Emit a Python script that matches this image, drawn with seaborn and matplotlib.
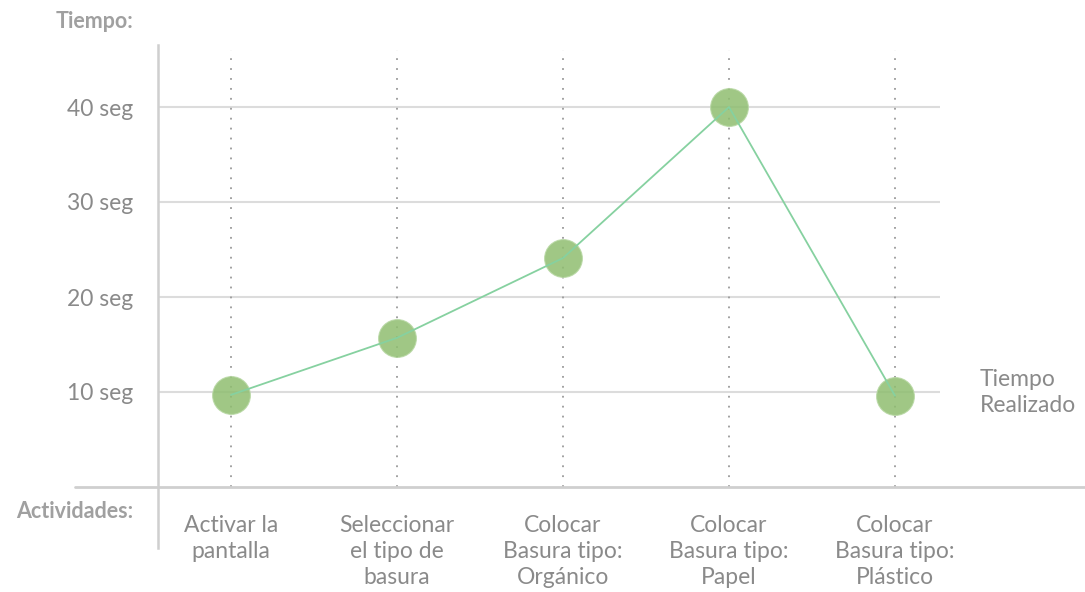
import matplotlib
matplotlib.use("Agg")
import matplotlib.pyplot as plt
import seaborn as sns
import pandas as pd
import numpy as np

categories = ["Activar la\npantalla", "Seleccionar\nel tipo de\nbasura",
              "Colocar\nBasura tipo:\nOrgánico", "Colocar\nBasura tipo:\nPapel",
              "Colocar\nBasura tipo:\nPlástico"]
tiempos = [9.7, 15.7, 24.1, 40.0, 9.6]
y_ticks = [10, 20, 30, 40]
y_tick_labels = ["10 seg", "20 seg", "30 seg", "40 seg"]
series_label = "Tiempo\nRealizado"

sns.set_theme(style="white")
plt.rcParams['font.family'] = ['Lato', 'DejaVu Sans']

TEXT = "#8a8a8a"
GRID = "#dcdcdc"
AXIS = "#cfcfcf"
FS = 16.5

df = pd.DataFrame({"pos": np.arange(len(categories)), "tiempo": tiempos, "cat": categories})

fig = plt.figure(figsize=(10.85, 5.92), dpi=100)
W, H = 1085, 592
ax = fig.add_axes([158 / W, 1 - 548 / H, (1085 - 158) / W, (548 - 45) / H])

x0 = -(231 - 158) / 166
x1 = (1085 - 231) / 166
ax.set_xlim(x0, x1)
ax.set_ylim(-(548 - 487) / 9.5, (487 - 45) / 9.5)

# horizontal grid lines
ax.hlines(y_ticks, x0, (940 - 231) / 166, color=GRID, lw=1.5, zorder=1)
# vertical dotted lines
ax.vlines(df["pos"], 0, 46.0, color="#9a9a9a", lw=1.3, linestyles=(0, (1, 4.5)), zorder=2)

sns.scatterplot(data=df, x="pos", y="tiempo", s=740, color="#8fbe70", alpha=0.85,
                edgecolor="#b8d8a4", linewidth=0.8, ax=ax, zorder=3, legend=False)
sns.lineplot(data=df, x="pos", y="tiempo", color="#86d1a0", lw=1.3, ax=ax, zorder=4,
             legend=False)

# x axis line
ax.plot([(75 - 231) / 166, x1], [0, 0], color=AXIS, lw=2, clip_on=False, zorder=2)

for s in ["top", "right", "bottom"]:
    ax.spines[s].set_visible(False)
ax.spines["left"].set_color(AXIS)
ax.spines["left"].set_linewidth(1.8)

ax.set_yticks(y_ticks)
ax.set_yticklabels(y_tick_labels, color=TEXT, fontsize=FS)
ax.tick_params(axis="y", length=0, pad=18)
ax.set_xticks([])
ax.set_xlabel("")
ax.set_ylabel("")

for p, c in zip(df["pos"], categories):
    ax.text(p, -2.9, c, ha="center", va="top", color=TEXT, fontsize=FS, linespacing=1.3)

ax.text((980 - 231) / 166, 9.9, series_label, ha="left", va="center", color=TEXT,
        fontsize=FS, linespacing=1.3)

fig.text(133 / W, 1 - 21 / H, "Tiempo:", ha="right", va="center", color="#a0a0a0",
         fontsize=15.5, fontweight="bold")
fig.text(133 / W, 1 - 512 / H, "Actividades:", ha="right", va="center", color="#a0a0a0",
         fontsize=15.5, fontweight="bold")

fig.savefig("out.png", dpi=100, facecolor="white")
